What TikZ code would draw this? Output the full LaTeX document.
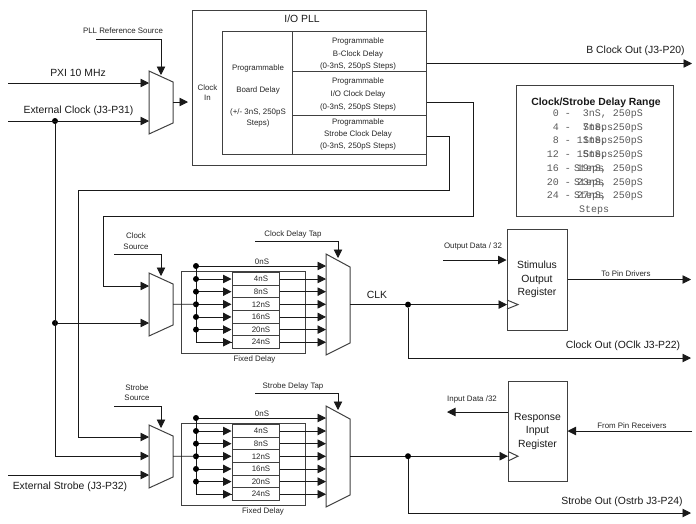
\documentclass[tikz,border=0pt]{standalone}
\usepackage{fontspec}
\setmainfont{Liberation Sans}
\newfontfamily\rangefont{Liberation Mono}
\usetikzlibrary{arrows.meta}

\newcommand{\muxshape}[6]{%
    \coordinate (#1-tl) at (#2,#3);
    \coordinate (#1-tr) at (#2+24,#4);
    \coordinate (#1-br) at (#2+24,#5);
    \coordinate (#1-bl) at (#2,#6);
    \draw [edge] (#1-tl) -- (#1-tr) -- (#1-br) -- (#1-bl) -- cycle;
}

\tikzset{
    edge/.style={line width=1pt,draw=black!75},
    wire/.style={line width=0.9pt,draw=black!90},
    sig/.style={wire,-{Triangle[length=8.5pt,width=8.5pt]}},
    block/.style={edge,draw,inner sep=0pt},
    dot/.style={circle,fill=black,inner sep=0pt,minimum size=6pt},
    tiny/.style={font=\fontsize{7.9}{10.5}\selectfont,text=black!85,inner sep=0pt,align=center},
    big/.style={font=\fontsize{10.4}{13.5}\selectfont,text=black!90,inner sep=0pt,align=center},
    rangeline/.style={font=\rangefont\fontsize{10}{12}\selectfont,text=black!65,inner sep=0pt,anchor=east},
}

\begin{document}
\begin{tikzpicture}[x=1pt,y=-1pt]
        \useasboundingbox (0,0) rectangle (696,523);

        % PLL
        \node [block,minimum width=234pt,minimum height=155pt] (pll) at (309,87.5) {};
        \node [block,minimum width=70pt,minimum height=122.5pt] (pllboard) at (257,92.75) {};
        \node [block,minimum width=134pt,minimum height=39.5pt] (pllb) at (359,51.25) {};
        \node [block,minimum width=134pt,minimum height=44pt] (pllio) at (359,93) {};
        \node [block,minimum width=134pt,minimum height=39pt] (pllstb) at (359,134.5) {};
        \node [big] (plltitle) at (302,19) {I/O PLL};
        \node [tiny] (pllin) at (207.5,93) {Clock\\[-0.5pt]In};
        \node [tiny] (boardtxt) at (258,95.5) {Programmable\\[12pt]Board Delay\\[11.5pt](+/- 3nS, 250pS\\Steps)};
        \node [tiny] (pllbtxt) at (358,54) {Programmable\\[2.8pt]B-Clock Delay\\[2pt](0-3nS, 250pS Steps)};
        \node [tiny] (plliotxt) at (358,94.5) {Programmable\\[2.5pt]I/O Clock Delay\\[2pt](0-3nS, 250pS Steps)};
        \node [tiny] (pllstbtxt) at (358,134.5) {Programmable\\[1pt]Strobe Clock Delay\\[1.5pt](0-3nS, 250pS Steps)};

        % Reference mux
        \muxshape{muxpll}{149}{71}{82}{123}{134}
        \coordinate (pxi) at (8,83);
        \coordinate (extclk) at (8,121);
        \coordinate (pllsel) at (96,39);
        \coordinate (pllout) at (173,102);
        \node [big] (pxitxt) at (78,73) {PXI 10 MHz};
        \node [big] (extclktxt) at (78.5,111) {External Clock (J3-P31)};
        \node [tiny] (pllseltxt) at (123,31) {PLL Reference Source};
        \node [dot] (extdot) at (55,121) {};
        \draw [sig] (pxi) -- (pxi -| muxpll-tl);
        \draw [sig] (extclk) -- (extclk -| muxpll-tl);
        \draw [sig] (pllsel) -| (161,75);
        \draw [sig] (pllout) -- (pllout -| 188,0);

        % Source muxes
        \muxshape{muxclk}{149}{273}{284}{325}{336}
        \muxshape{muxstb}{149}{425}{436}{477}{488}
        \node [tiny] (clksrc) at (136,241) {Clock\\Source};
        \node [tiny] (stbsrc) at (137,392.5) {Strobe\\Source};
        \node [big] (extstbtxt) at (70,487) {External Strobe (J3-P32)};
        \node [dot] (clkfork) at (55,323) {};
        \coordinate (clksel) at (114,254);
        \coordinate (stbsel) at (114,406);
        \coordinate (extstb) at (8,475);
        \coordinate (clkout) at (173,304.2);
        \coordinate (stbout) at (173,456.2);
        \draw [sig] (clksel) -| (161,276);
        \draw [sig] (stbsel) -| (161,428);
        \draw [sig] (extstb) -- (extstb -| muxstb-tl);
        \draw [sig] (clkfork) -- (clkfork -| muxclk-tl);
        \draw [sig] (extdot) -- (55,456) -- (muxstb-tl |- 0,456);

        % PLL outputs
        \draw [sig] (pllb.east |- 0,63.5) -- (692,63.5);
        \draw [sig] (pllio.east |- 0,102.5) -- (473,102.5) -- (473,216) -- (103,216)
            -- (103,286) -- (muxclk-tl |- 0,286);
        \draw [sig] (pllstb.east |- 0,136.5) -- (449,136.5) -- (449,190.5) -- (78,190.5)
            -- (78,437) -- (muxstb-tl |- 0,437);

        % Delay banks
        \foreach \bank/\dy/\sel/\fx in {clk/0/Clock Delay Tap/254.5,stb/152/Strobe Delay Tap/263} {
            \muxshape{\bank-tap}{326}{254+\dy}{267+\dy}{343+\dy}{355+\dy}
            \node [block,minimum width=124pt,minimum height=82pt] (\bank-fixed) at (243,{312.7+\dy}) {};
            \node [tiny] (\bank-fixedtxt) at (\fx,{359+\dy}) {Fixed Delay};
            \node [tiny] (\bank-zero) at (262,{261.5+\dy}) {0nS};
            \node [tiny] (\bank-seltxt) at (293,{234.5+\dy}) {\sel};
            \coordinate (\bank-sel) at (255,{241.5+\dy});
            \coordinate (\bank-bustop) at (196,{266+\dy});
            \draw [sig] (\bank-sel) -| (338,{258+\dy});
            \draw [sig] (\bank-bustop) -- (\bank-tap-tl |- \bank-bustop);
            \foreach \ns/\row in {4/0,8/1,12/2,16/3,20/4,24/5} {
                \coordinate (\bank-bus\row) at (196,{279+12.65*\row+\dy});
                \node [block,minimum width=47pt,minimum height=12.65pt,font=\fontsize{7.9}{10}\selectfont,text=black!85]
                    (\bank-dly\row) at (255.5,{279+12.65*\row+\dy}) {\hspace*{11pt}\ns nS};
                \draw [sig] (\bank-bus\row) -- (\bank-dly\row.west);
                \draw [sig] (\bank-dly\row.east) -- (\bank-tap-tl |- \bank-dly\row.east);
            }
            \draw [wire] (\bank-bustop) -- (\bank-bus5) -- (\bank-dly5.west);
            \foreach \row in {top,0,1,2,3,4} {
                \node [dot] (\bank-dot\row) at (\bank-bus\row) {};
            }
        }
        \draw [wire] (clkout) -- (clk-bus2);
        \draw [wire] (stbout) -- (stb-bus2);

        % Registers
        \node [block,big,minimum width=60pt,minimum height=101pt] (stim) at (537,279.5) {Stimulus\\Output\\Register};
        \node [block,big,minimum width=59pt,minimum height=100pt] (resp) at (537.5,431) {Response\\Input\\Register};
        \coordinate (stimck) at (507,304.6);
        \coordinate (respck) at (508,456.2);
        \draw [edge] (507,300) -- (518,304.6) -- (507,309);
        \draw [edge] (508,451.5) -- (518,456.2) -- (508,461);

        \node [dot] (clkjoin) at (408,304.6) {};
        \node [dot] (stbjoin) at (408,456.2) {};
        \coordinate (clkpin) at (691,358);
        \coordinate (stbpin) at (691,513);
        \coordinate (outdata) at (443,260);
        \coordinate (indata) at (447,412);
        \coordinate (topins) at (691,279.5);
        \coordinate (frompins) at (692,431);
        \node [big] (clktxt) at (377,295) {CLK};
        \node [big] (clkpintxt) at (623,346) {Clock Out (OClk J3-P22)};
        \node [big] (stbpintxt) at (622,502) {Strobe Out (Ostrb J3-P24)};
        \node [big] (bclktxt) at (635.5,51) {B Clock Out (J3-P20)};
        \node [tiny] (outdatatxt) at (473,246.5) {Output Data / 32};
        \node [tiny] (indatatxt) at (472,399) {Input Data /32};
        \node [tiny] (topinstxt) at (626,274) {To Pin Drivers};
        \node [tiny] (frompinstxt) at (632,425.5) {From Pin Receivers};

        \draw [wire] (clk-tap-tr |- stimck) -- (clkjoin);
        \draw [wire] (stb-tap-tr |- respck) -- (stbjoin);
        \draw [sig] (clkjoin) -- (stimck);
        \draw [sig] (stbjoin) -- (respck);
        \draw [sig] (clkjoin) |- (clkpin);
        \draw [sig] (stbjoin) |- (stbpin);
        \draw [sig] (outdata) -- (outdata -| stim.west);
        \draw [sig] (stim.east) -- (topins);
        \draw [sig] (resp.west |- indata) -- (indata);
        \draw [sig] (frompins) -- (resp.east);

        % Range table
        \node [block,minimum width=157pt,minimum height=131pt] (rangebox) at (594.5,150.5) {};
        \node [big,font=\bfseries\fontsize{10.4}{13}\selectfont] (rangetitle) at (596,103) {Clock/Strobe Delay Range};
        \foreach \txt/\row/\sx in {0 -~~3nS/0/598,4 -~~7nS/1/598,8 - 11nS/2/598,12 - 15nS/3/589,16 - 19nS/4/589,20 - 23nS/5/589,24 - 27nS/6/594} {
            \node [rangeline] (range\row) at (643,{114+13.75*\row}) {\txt, 250pS};
            \node [rangeline,anchor=center] (rangestep\row) at (\sx,{127.75+13.75*\row}) {Steps};
        }
\end{tikzpicture}
\end{document}
